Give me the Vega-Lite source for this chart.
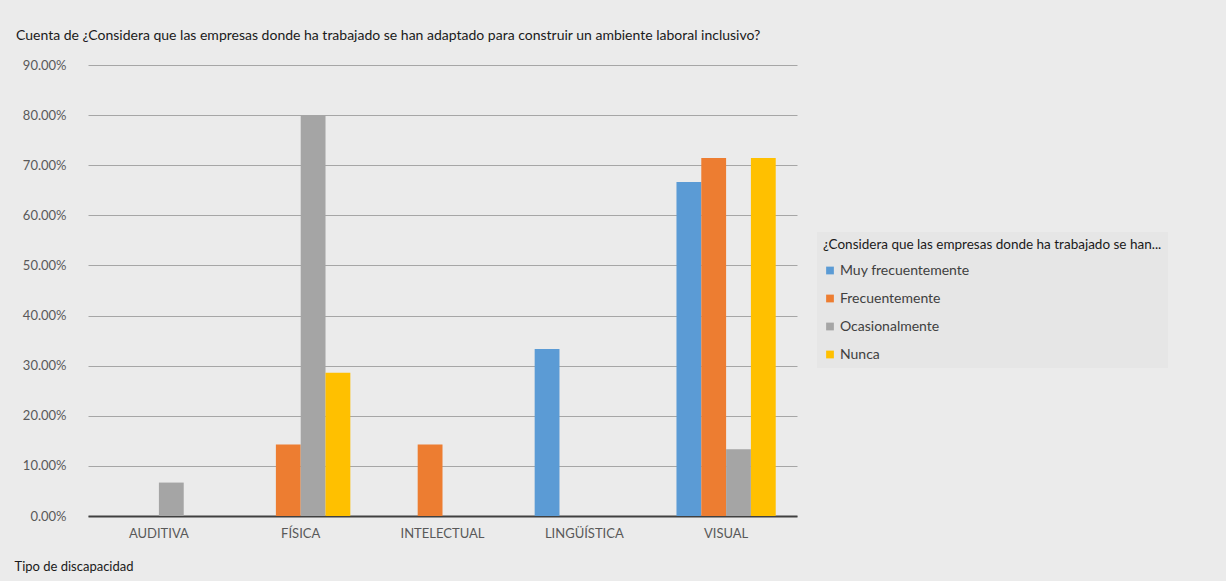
{
  "$schema": "https://vega.github.io/schema/vega-lite/v6.json",
  "width": 709,
  "height": 451,
  "autosize": {"type": "none"},
  "padding": {"left": 88, "top": 65, "right": 429, "bottom": 65},
  "background": "#ebebeb",
  "title": {
    "text": "Cuenta de ¿Considera que las empresas donde ha trabajado se han adaptado para construir un ambiente laboral inclusivo?",
    "anchor": "start",
    "dx": 2,
    "offset": 16,
    "fontSize": 14,
    "font": "Lato",
    "fontWeight": "normal",
    "color": "#1a1a1a",
    "limit": 1000
  },
  "data": {
    "values": [
      {"tipo": "AUDITIVA", "respuesta": "Ocasionalmente", "pct": 0.0667},
      {"tipo": "FÍSICA", "respuesta": "Frecuentemente", "pct": 0.1429},
      {"tipo": "FÍSICA", "respuesta": "Ocasionalmente", "pct": 0.80},
      {"tipo": "FÍSICA", "respuesta": "Nunca", "pct": 0.2857},
      {"tipo": "INTELECTUAL", "respuesta": "Frecuentemente", "pct": 0.1429},
      {"tipo": "LINGÜÍSTICA", "respuesta": "Muy frecuentemente", "pct": 0.3333},
      {"tipo": "VISUAL", "respuesta": "Muy frecuentemente", "pct": 0.6667},
      {"tipo": "VISUAL", "respuesta": "Frecuentemente", "pct": 0.7143},
      {"tipo": "VISUAL", "respuesta": "Ocasionalmente", "pct": 0.1333},
      {"tipo": "VISUAL", "respuesta": "Nunca", "pct": 0.7143}
    ]
  },
  "mark": {"type": "bar"},
  "encoding": {
    "x": {
      "field": "tipo",
      "type": "nominal",
      "sort": ["AUDITIVA", "FÍSICA", "INTELECTUAL", "LINGÜÍSTICA", "VISUAL"],
      "scale": {"paddingInner": 0.3, "paddingOuter": 0.15},
      "axis": {
        "title": "Tipo de discapacidad",
        "titleX": -74,
        "titleY": 50,
        "titleAlign": "left",
        "titleBaseline": "middle",
        "titleFont": "Lato",
        "titleFontSize": 13,
        "titleFontWeight": "normal",
        "titleColor": "#1a1a1a",
        "labelAngle": 0,
        "labelFont": "Lato",
        "labelFontSize": 13,
        "labelColor": "#595959",
        "labelPadding": 11,
        "ticks": false,
        "domainColor": "#404040",
        "domainWidth": 2,
        "grid": false
      }
    },
    "xOffset": {
      "field": "respuesta",
      "type": "nominal",
      "scale": {"domain": ["Muy frecuentemente", "Frecuentemente", "Ocasionalmente", "Nunca"], "paddingInner": 0, "paddingOuter": 0}
    },
    "y": {
      "field": "pct",
      "type": "quantitative",
      "scale": {"domain": [0, 0.9], "nice": false},
      "axis": {
        "title": null,
        "format": ".2%",
        "values": [0, 0.1, 0.2, 0.3, 0.4, 0.5, 0.6, 0.7, 0.8, 0.9],
        "labelFont": "Lato",
        "labelFontSize": 13,
        "labelColor": "#595959",
        "labelPadding": 22,
        "ticks": false,
        "domain": false,
        "grid": true,
        "gridColor": "#a6a6a6",
        "gridWidth": 1
      }
    },
    "color": {
      "field": "respuesta",
      "type": "nominal",
      "scale": {
        "domain": ["Muy frecuentemente", "Frecuentemente", "Ocasionalmente", "Nunca"],
        "range": ["#5b9bd5", "#ed7d31", "#a5a5a5", "#ffc000"]
      },
      "legend": {
        "title": "¿Considera que las empresas donde ha trabajado se han...",
        "orient": "none",
        "legendX": 729,
        "legendY": 167,
        "padding": 6,
        "fillColor": "#e6e6e6",
        "titleFont": "Lato",
        "titleFontSize": 13.5,
        "titleFontWeight": "normal",
        "titleColor": "#1a1a1a",
        "titlePadding": 12,
        "titleLimit": 400,
        "labelFont": "Lato",
        "labelFontSize": 14,
        "labelColor": "#404040",
        "labelOffset": 3,
        "symbolType": "square",
        "symbolSize": 60,
        "symbolStrokeWidth": 0,
        "rowPadding": 14,
        "offset": 0
      }
    }
  },
  "config": {
    "view": {"stroke": null}
  }
}
